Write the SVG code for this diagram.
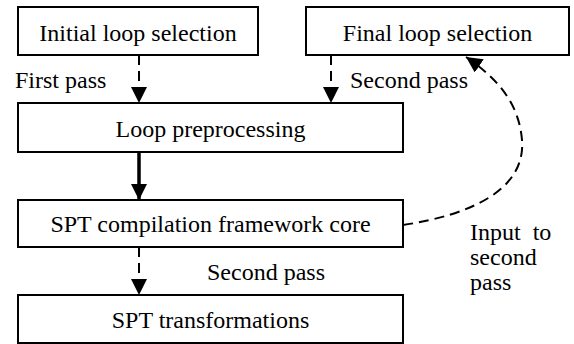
<svg xmlns="http://www.w3.org/2000/svg" width="574" height="344" viewBox="0 0 574 344" font-family="'Liberation Serif', 'Times New Roman', Times, serif">
<style>
.box{fill:#fff;stroke:#000;stroke-width:2}
.t{font-family:'Liberation Serif','Times New Roman',Times,serif;font-size:24px;fill:#000}
.c{text-anchor:middle}
.dash{fill:none;stroke:#000;stroke-width:2;stroke-dasharray:10 6}
.solid{fill:none;stroke:#000;stroke-width:3.5}
</style>
<defs>
<marker id="ah" markerUnits="userSpaceOnUse" markerWidth="16" markerHeight="16" viewBox="0 0 16 16" refX="16" refY="8" orient="auto">
<path d="M0,0 L16,8 L0,16 Z" fill="#000"/>
</marker>
</defs>
<rect width="574" height="344" fill="#fff"/>
<g id="connectors">
<path class="dash" d="M139,55 V103" marker-end="url(#ah)"/>
<path class="dash" d="M331,55 V103" marker-end="url(#ah)"/>
<path class="solid" d="M139,152 V200" marker-end="url(#ah)"/>
<path class="dash" d="M139,247 V295" marker-end="url(#ah)"/>
<path class="dash" d="M403,225 C470,215 526,190 522,140 C519,105 500,80 466,57" marker-end="url(#ah)"/>
<text class="t" x="15" y="88">First pass</text>
<text class="t" x="350" y="88">Second pass</text>
<text class="t" x="207" y="280">Second pass</text>
<text class="t" x="470" y="240" xml:space="preserve">Input  to</text>
<text class="t" x="470" y="265">second</text>
<text class="t" x="470" y="290">pass</text>
</g>
<g id="initial">
<rect class="box" x="18" y="7" width="240" height="48"/>
<text class="t c" x="138" y="41">Initial loop selection</text>
</g>
<g id="final">
<rect class="box" x="306" y="7" width="263" height="48"/>
<text class="t c" x="437.5" y="41">Final loop selection</text>
</g>
<g id="preproc">
<rect class="box" x="18" y="103" width="385" height="49"/>
<text class="t c" x="210.5" y="137">Loop preprocessing</text>
</g>
<g id="core">
<rect class="box" x="18" y="200" width="385" height="47"/>
<text class="t c" x="210.5" y="232">SPT compilation framework core</text>
</g>
<g id="transform">
<rect class="box" x="18" y="295" width="385" height="48"/>
<text class="t c" x="210.5" y="328">SPT transformations</text>
</g>
</svg>
